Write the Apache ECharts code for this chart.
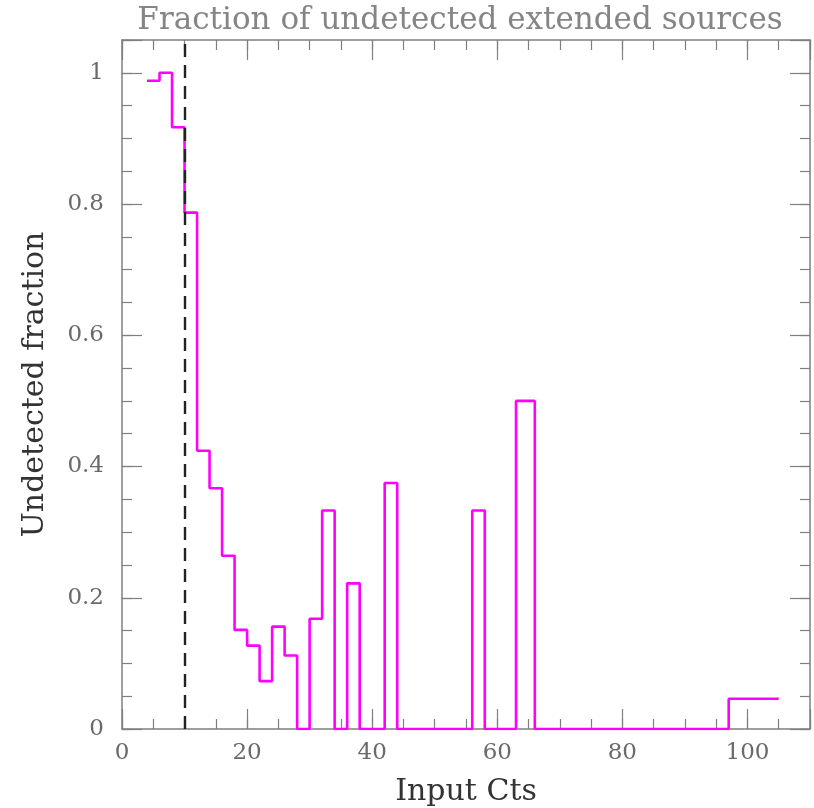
<!DOCTYPE html>
<html>
<head>
<meta charset="utf-8">
<script src="https://cdn.jsdelivr.net/npm/echarts@6/dist/echarts.min.js"></script>
<style>
  html, body { margin: 0; padding: 0; background: #ffffff; }
  #chart { width: 814px; height: 808px; }
</style>
</head>
<body>
<div id="chart"></div>
<script>
// Histogram bin edges (input counts) and the undetected fraction in each bin
const binEdges = [4, 6, 8, 10, 12, 14, 16, 18, 20, 22, 24, 26, 28, 30, 32, 34, 36, 38, 40, 42,
                  44, 46, 48, 50, 52, 54, 56, 58, 63, 66, 97, 105];
const undetectedFraction = [0.988, 1.0, 0.917, 0.787, 0.424, 0.367, 0.264, 0.151, 0.127, 0.073,
                            0.156, 0.112, 0, 0.168, 0.333, 0, 0.222, 0, 0, 0.375,
                            0, 0, 0, 0, 0, 0, 0.333, 0, 0.5, 0, 0.046];
// Detection threshold (dashed vertical line)
const thresholdCts = 10;

// Axis ticks and their labels
const xTickValues = [0, 20, 40, 60, 80, 100];
const xTickLabels = ['0', '20', '40', '60', '80', '100'];
const yTickValues = [0, 0.2, 0.4, 0.6, 0.8, 1];
const yTickLabels = ['0', '0.2', '0.4', '0.6', '0.8', '1'];

const titleText = 'Fraction of undetected extended sources';
const xName = 'Input Cts';
const yName = 'Undetected fraction';

// Step outline: each bin starts at its left edge, last point closes the final bin
const stepPoints = undetectedFraction.map((v, i) => [binEdges[i], v]);
stepPoints.push([binEdges[binEdges.length - 1], undetectedFraction[undetectedFraction.length - 1]]);

const frameColor = '#7f7f7f';
const serif = 'DejaVu Serif';

function labelFor(values, labels) {
  return function (v) {
    for (let i = 0; i < values.length; i++) {
      if (Math.abs(values[i] - v) < 1e-9) return labels[i];
    }
    return '';
  };
}

function makeAxis(opts) {
  const showLine = !!opts.line;
  return Object.assign({
    type: 'value',
    min: opts.min,
    max: opts.max,
    interval: opts.interval,
    position: opts.position,
    axisLine: { show: showLine, onZero: false, lineStyle: { color: frameColor, width: 1.5 } },
    axisTick: { show: true, inside: true, length: opts.tickLen, lineStyle: { color: frameColor, width: 1.2 } },
    axisLabel: { show: false },
    splitLine: { show: false },
    minorTick: { show: false }
  }, opts.extra || {});
}

const xMin = 0, xMax = 110, yMin = 0, yMax = 1.05;

const option = {
  animation: false,
  backgroundColor: '#ffffff',
  title: {
    text: titleText,
    left: 455,
    top: 0,
    textAlign: 'center',
    textStyle: { fontFamily: serif, fontWeight: 'normal', fontSize: 31, color: '#858585' }
  },
  grid: { left: 122, right: 4, top: 40, bottom: 79, containLabel: false, outerBoundsMode: 'none' },
  xAxis: [
    makeAxis({ min: xMin, max: xMax, interval: 20, position: 'bottom', tickLen: 20, line: true, extra: {
      axisLabel: { show: true, margin: 13, color: '#6a6a6a', fontFamily: serif, fontSize: 23,
                   formatter: labelFor(xTickValues, xTickLabels) },
      name: xName, nameLocation: 'middle', nameGap: 48,
      nameTextStyle: { fontFamily: serif, fontSize: 30, color: '#333333' }
    } }),
    makeAxis({ min: xMin, max: xMax, interval: 5, position: 'bottom', tickLen: 10 }),
    makeAxis({ min: xMin, max: xMax, interval: 20, position: 'top', tickLen: 20, line: true }),
    makeAxis({ min: xMin, max: xMax, interval: 5, position: 'top', tickLen: 10 })
  ],
  yAxis: [
    makeAxis({ min: yMin, max: yMax, interval: 0.2, position: 'left', tickLen: 20, line: true, extra: {
      axisLabel: { show: true, margin: 18, color: '#6a6a6a', fontFamily: serif, fontSize: 23,
                   formatter: labelFor(yTickValues, yTickLabels) },
      name: yName, nameLocation: 'middle', nameGap: 72,
      nameTextStyle: { fontFamily: serif, fontSize: 30, color: '#333333' }
    } }),
    makeAxis({ min: yMin, max: yMax, interval: 0.05, position: 'left', tickLen: 10 }),
    makeAxis({ min: yMin, max: yMax, interval: 0.2, position: 'right', tickLen: 20, line: true }),
    makeAxis({ min: yMin, max: yMax, interval: 0.05, position: 'right', tickLen: 10 })
  ],
  series: [
    {
      type: 'line',
      xAxisIndex: 0,
      yAxisIndex: 0,
      step: 'end',
      data: stepPoints,
      symbol: 'none',
      lineStyle: { color: '#ff00ff', width: 2.6 },
      z: 3
    },
    {
      // carrier series for the threshold marker, drawn above the histogram
      type: 'line',
      xAxisIndex: 0,
      yAxisIndex: 0,
      data: [],
      z: 6,
      markLine: {
        silent: true,
        symbol: 'none',
        label: { show: false },
        lineStyle: { color: '#222222', type: [13, 8], width: 2.4 },
        data: [{ xAxis: thresholdCts }]
      }
    }
  ]
};

const chart = echarts.init(document.getElementById('chart'), null, { renderer: 'canvas' });
chart.setOption(option);
</script>
</body>
</html>
